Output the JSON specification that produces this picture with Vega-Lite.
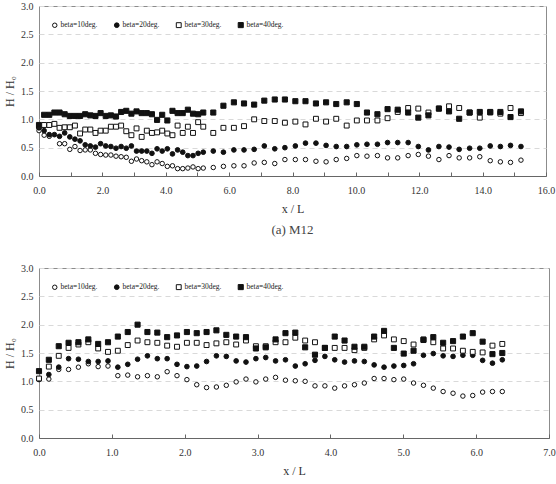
{
  "$schema": "https://vega.github.io/schema/vega-lite/v6.json",
  "background": "white",
  "padding": {"left": 3, "top": 0, "right": 0, "bottom": 0},
  "spacing": 24,
  "config": {
    "view": {"stroke": "#8c8c8c", "strokeWidth": 1},
    "font": "Liberation Serif",
    "axis": {"labelFont": "Liberation Serif", "titleFont": "Liberation Serif", "labelColor": "#333", "titleColor": "#333", "titleFontWeight": "normal", "labelFontSize": 10},
    "axisX": {"grid": false, "tickSize": -4, "tickColor": "#666", "domainColor": "#666", "labelPadding": 13, "titleFontSize": 12, "titlePadding": 8, "labelFlush": false},
    "axisY": {"gridDash": [5, 4], "gridColor": "#d9d9d9", "ticks": false, "domain": false, "labelPadding": 6, "titleFontSize": 12, "titlePadding": 4}
  },
  "datasets": {
    "m12": [
      {"x": 0, "b10": 0.80, "b20": 0.85, "b30": 0.88, "b40": 0.90},
      {"x": 0.162, "b10": 0.72, "b20": 0.80, "b30": 0.90, "b40": 1.08},
      {"x": 0.324, "b10": 0.70, "b20": 0.73, "b30": 0.90, "b40": 1.08},
      {"x": 0.486, "b10": null, "b20": 0.73, "b30": 0.92, "b40": 1.12},
      {"x": 0.648, "b10": 0.57, "b20": 0.70, "b30": 0.85, "b40": 1.12},
      {"x": 0.81, "b10": 0.57, "b20": 0.76, "b30": 0.86, "b40": 1.09},
      {"x": 0.972, "b10": 0.47, "b20": 0.69, "b30": 0.86, "b40": 1.06},
      {"x": 1.134, "b10": 0.52, "b20": 0.65, "b30": 0.89, "b40": 1.06},
      {"x": 1.296, "b10": 0.45, "b20": 0.62, "b30": 0.75, "b40": 1.06},
      {"x": 1.458, "b10": 0.46, "b20": 0.55, "b30": 0.82, "b40": 1.09},
      {"x": 1.62, "b10": 0.46, "b20": 0.53, "b30": 0.82, "b40": 1.07},
      {"x": 1.782, "b10": 0.40, "b20": 0.51, "b30": 0.76, "b40": 1.06},
      {"x": 1.944, "b10": 0.38, "b20": 0.57, "b30": 0.80, "b40": 1.11},
      {"x": 2.106, "b10": 0.37, "b20": 0.53, "b30": 0.80, "b40": 1.06},
      {"x": 2.268, "b10": 0.37, "b20": 0.52, "b30": 0.87, "b40": 1.07},
      {"x": 2.43, "b10": 0.35, "b20": 0.49, "b30": 0.87, "b40": 1.05},
      {"x": 2.592, "b10": 0.34, "b20": 0.52, "b30": 0.89, "b40": 1.13},
      {"x": 2.754, "b10": 0.33, "b20": 0.49, "b30": 0.79, "b40": 1.15},
      {"x": 2.916, "b10": 0.26, "b20": 0.53, "b30": 0.72, "b40": 1.10},
      {"x": 3.078, "b10": 0.30, "b20": 0.44, "b30": 0.84, "b40": 1.14},
      {"x": 3.24, "b10": 0.27, "b20": 0.44, "b30": 0.69, "b40": 1.11},
      {"x": 3.402, "b10": 0.25, "b20": 0.44, "b30": 0.80, "b40": 1.11},
      {"x": 3.564, "b10": 0.20, "b20": 0.40, "b30": 0.76, "b40": 1.09},
      {"x": 3.726, "b10": 0.25, "b20": 0.48, "b30": 0.77, "b40": 0.99},
      {"x": 3.888, "b10": 0.22, "b20": 0.44, "b30": 0.80, "b40": 1.08},
      {"x": 4.05, "b10": 0.17, "b20": 0.48, "b30": 0.75, "b40": 0.98},
      {"x": 4.212, "b10": 0.18, "b20": 0.39, "b30": 0.72, "b40": 1.15},
      {"x": 4.374, "b10": 0.13, "b20": 0.46, "b30": 0.89, "b40": 1.11},
      {"x": 4.536, "b10": 0.13, "b20": 0.42, "b30": 0.76, "b40": 1.11},
      {"x": 4.698, "b10": 0.14, "b20": 0.36, "b30": 0.87, "b40": 1.17},
      {"x": 4.86, "b10": 0.16, "b20": 0.36, "b30": 0.76, "b40": 1.10},
      {"x": 5.022, "b10": 0.13, "b20": 0.40, "b30": 0.95, "b40": 1.09},
      {"x": 5.184, "b10": 0.14, "b20": 0.42, "b30": 0.87, "b40": 1.12},
      {"x": 5.5, "b10": 0.15, "b20": 0.44, "b30": 0.76, "b40": 1.12},
      {"x": 5.82, "b10": 0.17, "b20": 0.42, "b30": 0.85, "b40": 1.24},
      {"x": 6.15, "b10": 0.18, "b20": 0.46, "b30": 0.85, "b40": 1.30},
      {"x": 6.47, "b10": 0.18, "b20": 0.46, "b30": 0.88, "b40": 1.28},
      {"x": 6.79, "b10": 0.23, "b20": 0.47, "b30": 1.00, "b40": 1.26},
      {"x": 7.11, "b10": 0.24, "b20": 0.53, "b30": 0.97, "b40": 1.33},
      {"x": 7.44, "b10": 0.22, "b20": 0.48, "b30": 0.97, "b40": 1.35},
      {"x": 7.76, "b10": 0.29, "b20": 0.50, "b30": 0.94, "b40": 1.35},
      {"x": 8.09, "b10": 0.29, "b20": 0.53, "b30": 0.96, "b40": 1.32},
      {"x": 8.41, "b10": 0.29, "b20": 0.58, "b30": 0.91, "b40": 1.32},
      {"x": 8.74, "b10": 0.26, "b20": 0.58, "b30": 1.01, "b40": 1.28},
      {"x": 9.06, "b10": 0.25, "b20": 0.54, "b30": 0.96, "b40": 1.30},
      {"x": 9.38, "b10": 0.29, "b20": 0.52, "b30": 1.01, "b40": 1.27},
      {"x": 9.71, "b10": 0.31, "b20": 0.52, "b30": 0.89, "b40": 1.30},
      {"x": 10.03, "b10": 0.36, "b20": 0.55, "b30": 0.98, "b40": 1.27},
      {"x": 10.35, "b10": 0.35, "b20": 0.56, "b30": 0.98, "b40": 1.12},
      {"x": 10.68, "b10": 0.36, "b20": 0.56, "b30": 0.98, "b40": 1.09},
      {"x": 11.0, "b10": 0.32, "b20": 0.59, "b30": 1.02, "b40": 1.18},
      {"x": 11.32, "b10": 0.32, "b20": 0.59, "b30": 1.13, "b40": 1.17},
      {"x": 11.65, "b10": 0.36, "b20": 0.59, "b30": 1.20, "b40": 1.12},
      {"x": 11.97, "b10": 0.38, "b20": 0.52, "b30": 1.19, "b40": 1.03},
      {"x": 12.29, "b10": 0.35, "b20": 0.46, "b30": 1.12, "b40": 1.07},
      {"x": 12.62, "b10": 0.29, "b20": 0.52, "b30": 1.19, "b40": 1.19},
      {"x": 12.94, "b10": 0.36, "b20": 0.51, "b30": 1.23, "b40": 1.14},
      {"x": 13.26, "b10": 0.32, "b20": 0.47, "b30": 1.20, "b40": 1.01},
      {"x": 13.59, "b10": 0.32, "b20": 0.49, "b30": 1.12, "b40": 1.12},
      {"x": 13.91, "b10": 0.34, "b20": 0.49, "b30": 1.03, "b40": 1.13},
      {"x": 14.24, "b10": 0.27, "b20": 0.53, "b30": 1.12, "b40": 1.13},
      {"x": 14.56, "b10": 0.25, "b20": 0.52, "b30": 1.10, "b40": 1.13},
      {"x": 14.88, "b10": 0.24, "b20": 0.54, "b30": 1.20, "b40": 1.04},
      {"x": 15.21, "b10": 0.28, "b20": 0.52, "b30": 1.11, "b40": 1.14}
    ],
    "m22": [
      {"x": 0, "b10": 1.03, "b20": 1.04, "b30": 1.05, "b40": 1.18},
      {"x": 0.135, "b10": 1.04, "b20": 1.12, "b30": 1.26, "b40": 1.38},
      {"x": 0.271, "b10": 1.21, "b20": 1.25, "b30": 1.45, "b40": 1.62},
      {"x": 0.406, "b10": 1.21, "b20": 1.40, "b30": 1.59, "b40": 1.68},
      {"x": 0.541, "b10": 1.25, "b20": 1.39, "b30": 1.65, "b40": 1.69},
      {"x": 0.677, "b10": 1.31, "b20": 1.35, "b30": 1.69, "b40": 1.74},
      {"x": 0.812, "b10": 1.26, "b20": 1.35, "b30": 1.58, "b40": 1.66},
      {"x": 0.947, "b10": 1.27, "b20": 1.36, "b30": 1.52, "b40": 1.69},
      {"x": 1.082, "b10": 1.10, "b20": 1.25, "b30": 1.54, "b40": 1.79},
      {"x": 1.218, "b10": 1.11, "b20": 1.30, "b30": 1.64, "b40": 1.87},
      {"x": 1.353, "b10": 1.08, "b20": 1.39, "b30": 1.72, "b40": 2.00},
      {"x": 1.488, "b10": 1.10, "b20": 1.45, "b30": 1.69, "b40": 1.87},
      {"x": 1.624, "b10": 1.08, "b20": 1.40, "b30": 1.68, "b40": 1.86},
      {"x": 1.759, "b10": 1.17, "b20": 1.40, "b30": 1.63, "b40": 1.78},
      {"x": 1.894, "b10": 1.10, "b20": 1.30, "b30": 1.61, "b40": 1.81},
      {"x": 2.03, "b10": 1.03, "b20": 1.26, "b30": 1.68, "b40": 1.87},
      {"x": 2.165, "b10": 0.94, "b20": 1.27, "b30": 1.68, "b40": 1.85},
      {"x": 2.30, "b10": 0.89, "b20": 1.35, "b30": 1.64, "b40": 1.87},
      {"x": 2.435, "b10": 0.90, "b20": 1.45, "b30": 1.67, "b40": 1.90},
      {"x": 2.571, "b10": 0.93, "b20": 1.44, "b30": 1.69, "b40": 1.82},
      {"x": 2.706, "b10": 0.99, "b20": 1.36, "b30": 1.65, "b40": 1.79},
      {"x": 2.841, "b10": 1.04, "b20": 1.34, "b30": 1.72, "b40": 1.78},
      {"x": 2.977, "b10": 0.99, "b20": 1.40, "b30": 1.62, "b40": 1.58},
      {"x": 3.112, "b10": 1.04, "b20": 1.42, "b30": 1.62, "b40": 1.60},
      {"x": 3.247, "b10": 1.07, "b20": 1.36, "b30": 1.69, "b40": 1.74},
      {"x": 3.383, "b10": 1.02, "b20": 1.38, "b30": 1.69, "b40": 1.85},
      {"x": 3.518, "b10": 1.01, "b20": 1.27, "b30": 1.77, "b40": 1.86},
      {"x": 3.653, "b10": 1.00, "b20": 1.31, "b30": 1.72, "b40": 1.60},
      {"x": 3.788, "b10": 0.92, "b20": 1.37, "b30": 1.69, "b40": 1.47},
      {"x": 3.924, "b10": 0.92, "b20": 1.44, "b30": 1.59, "b40": 1.59},
      {"x": 4.059, "b10": 0.88, "b20": 1.38, "b30": 1.59, "b40": 1.79},
      {"x": 4.194, "b10": 0.92, "b20": 1.34, "b30": 1.59, "b40": 1.72},
      {"x": 4.33, "b10": 0.94, "b20": 1.36, "b30": 1.55, "b40": 1.61},
      {"x": 4.465, "b10": 0.97, "b20": 1.35, "b30": 1.59, "b40": 1.61},
      {"x": 4.60, "b10": 1.05, "b20": 1.29, "b30": 1.74, "b40": 1.79},
      {"x": 4.736, "b10": 1.05, "b20": 1.25, "b30": 1.81, "b40": 1.89},
      {"x": 4.871, "b10": 1.03, "b20": 1.27, "b30": 1.74, "b40": 1.59},
      {"x": 5.006, "b10": 1.04, "b20": 1.28, "b30": 1.71, "b40": 1.49},
      {"x": 5.141, "b10": 0.97, "b20": 1.31, "b30": 1.65, "b40": 1.54},
      {"x": 5.277, "b10": 0.93, "b20": 1.46, "b30": 1.74, "b40": 1.73},
      {"x": 5.412, "b10": 0.88, "b20": 1.49, "b30": 1.69, "b40": 1.78},
      {"x": 5.547, "b10": 0.82, "b20": 1.45, "b30": 1.58, "b40": 1.68},
      {"x": 5.683, "b10": 0.79, "b20": 1.44, "b30": 1.58, "b40": 1.71},
      {"x": 5.818, "b10": 0.74, "b20": 1.46, "b30": 1.54, "b40": 1.79},
      {"x": 5.953, "b10": 0.75, "b20": 1.46, "b30": 1.52, "b40": 1.85},
      {"x": 6.089, "b10": 0.81, "b20": 1.37, "b30": 1.51, "b40": 1.70},
      {"x": 6.224, "b10": 0.82, "b20": 1.32, "b30": 1.63, "b40": 1.48},
      {"x": 6.359, "b10": 0.82, "b20": 1.38, "b30": 1.66, "b40": 1.50}
    ]
  },
  "vconcat": [
    {
      "width": 507,
      "height": 170,
      "data": {"name": "m12"},
      "transform": [{"fold": ["b10", "b20", "b30", "b40"], "as": ["s", "y"]}, {"filter": "isValid(datum.y)"}],
      "title": {"text": "(a)  M12", "orient": "bottom", "offset": 10, "fontSize": 13, "font": "Liberation Serif", "fontWeight": "normal", "color": "#444", "anchor": "middle", "baseline": "top"},
      "mark": {"type": "point", "filled": true, "stroke": "#111", "strokeWidth": 1, "opacity": 1},
      "encoding": {
        "x": {"field": "x", "type": "quantitative", "scale": {"domain": [0, 16], "nice": false}, "axis": {"values": [0, 1, 2, 3, 4, 5, 6, 7, 8, 9, 10, 11, 12, 13, 14, 15, 16], "labelExpr": "datum.value % 2 == 0 ? format(datum.value, '.1f') : ''", "title": "x / L"}},
        "y": {"field": "y", "type": "quantitative", "scale": {"domain": [0, 3], "nice": false}, "axis": {"values": [0, 0.5, 1, 1.5, 2, 2.5, 3], "format": ".1f", "title": "H / H₀"}},
        "shape": {"field": "s", "type": "nominal", "scale": {"domain": ["b10", "b20", "b30", "b40"], "range": ["circle", "circle", "square", "square"]}, "legend": {"title": null, "orient": "none", "legendX": 12, "legendY": 15, "direction": "horizontal", "labelExpr": "'beta=' + slice(datum.label, 1) + 'deg.'", "labelFont": "Liberation Serif", "labelFontSize": 7.5, "labelColor": "#222", "labelOffset": 2, "columnPadding": 14, "padding": 0, "symbolStrokeWidth": 1, "symbolStrokeColor": "#111"}},
        "fill": {"field": "s", "type": "nominal", "scale": {"domain": ["b10", "b20", "b30", "b40"], "range": ["#ffffff", "#111111", "#ffffff", "#111111"]}},
        "size": {"field": "s", "type": "nominal", "scale": {"type": "ordinal", "domain": ["b10", "b20", "b30", "b40"], "range": [20, 22, 24, 26]}}
      }
    },
    {
      "width": 510,
      "height": 170,
      "data": {"name": "m22"},
      "transform": [{"fold": ["b10", "b20", "b30", "b40"], "as": ["s", "y"]}, {"filter": "isValid(datum.y)"}],
      "title": {"text": "(b)  M22", "orient": "bottom", "offset": 10, "fontSize": 13, "font": "Liberation Serif", "fontWeight": "normal", "color": "#444", "anchor": "middle", "baseline": "top"},
      "mark": {"type": "point", "filled": true, "stroke": "#111", "strokeWidth": 1, "opacity": 1},
      "encoding": {
        "x": {"field": "x", "type": "quantitative", "scale": {"domain": [0, 7], "nice": false}, "axis": {"values": [0, 1, 2, 3, 4, 5, 6, 7], "format": ".1f", "title": "x / L"}},
        "y": {"field": "y", "type": "quantitative", "scale": {"domain": [0, 3], "nice": false}, "axis": {"values": [0, 0.5, 1, 1.5, 2, 2.5, 3], "format": ".1f", "title": "H / H₀"}},
        "shape": {"field": "s", "type": "nominal", "scale": {"domain": ["b10", "b20", "b30", "b40"], "range": ["circle", "circle", "square", "square"]}, "legend": {"title": null, "orient": "none", "legendX": 12, "legendY": 15, "direction": "horizontal", "labelExpr": "'beta=' + slice(datum.label, 1) + 'deg.'", "labelFont": "Liberation Serif", "labelFontSize": 7.5, "labelColor": "#222", "labelOffset": 2, "columnPadding": 14, "padding": 0, "symbolStrokeWidth": 1, "symbolStrokeColor": "#111"}},
        "fill": {"field": "s", "type": "nominal", "scale": {"domain": ["b10", "b20", "b30", "b40"], "range": ["#ffffff", "#111111", "#ffffff", "#111111"]}},
        "size": {"field": "s", "type": "nominal", "scale": {"type": "ordinal", "domain": ["b10", "b20", "b30", "b40"], "range": [20, 22, 24, 26]}}
      }
    }
  ],
  "resolve": {"scale": {"shape": "independent", "fill": "independent", "size": "independent"}, "legend": {"shape": "independent", "fill": "independent", "size": "independent"}}
}
